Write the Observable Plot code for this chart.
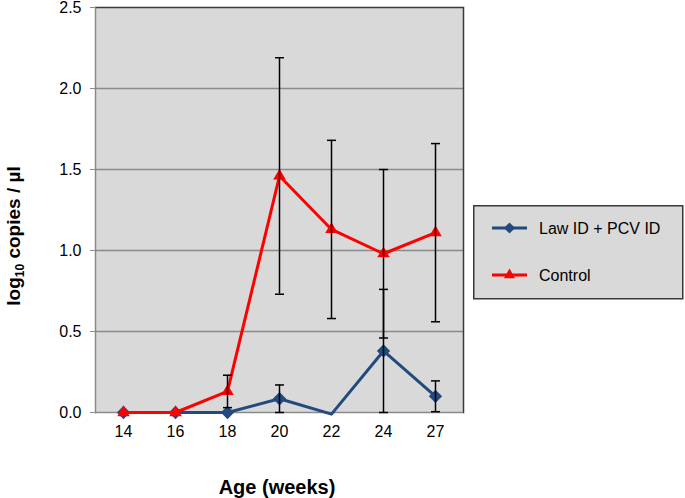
<!DOCTYPE html>
<html>
<head>
<meta charset="utf-8">
<script src="https://cdn.jsdelivr.net/npm/d3@7"></script>
<script src="https://cdn.jsdelivr.net/npm/@observablehq/plot@0.6"></script>
<style>
  body { margin: 0; background: #fff; font-family: "Liberation Sans", Arial, sans-serif; }
  #wrap { position: relative; width: 685px; height: 498px; }
  #legend { position: absolute; left: 473px; top: 205px; }
</style>
</head>
<body>
<div id="wrap"></div>
<script>
const weeks = ["14", "16", "18", "20", "22", "24", "27"];
const lawMean = [0, 0, 0, 0.085, -0.01, 0.38, 0.10];
const lawErr = [0, 0, 0, 0.085, 0, 0.38, 0.095];
const controlMean = [0, 0, 0.13, 1.46, 1.13, 0.98, 1.11];
const controlErr = [0, 0, 0.10, 0.73, 0.55, 0.52, 0.55];
const yTicks = [0, 0.5, 1.0, 1.5, 2.0, 2.5];
const seriesNames = ["Law ID + PCV ID", "Control"];
const seriesColors = ["#23497f", "#ff0000"];

const lawData = weeks.map((w, i) => ({week: w, v: lawMean[i], e: lawErr[i]}));
const ctlData = weeks.map((w, i) => ({week: w, v: controlMean[i], e: controlErr[i]}));
const errData = [...ctlData, ...lawData].filter(d => d.e > 0);

const cap = {draw(ctx, size) { const w = 4.5; ctx.moveTo(-w, 0); ctx.lineTo(w, 0); }};

const plot = Plot.plot({
  width: 685,
  height: 498,
  marginLeft: 95,
  marginRight: 222,
  marginTop: 7,
  marginBottom: 86,
  style: {fontFamily: "'Liberation Sans', Arial, sans-serif", fontSize: "16px", background: "transparent"},
  x: {type: "point", domain: weeks, padding: 0.5},
  y: {domain: [0, 2.5]},
  marks: [
    Plot.frame({fill: "#d9d9d9", stroke: "none"}),
    Plot.gridY(yTicks.slice(1, -1), {stroke: "#8a8a8a", strokeOpacity: 1, strokeWidth: 1.5}),
    Plot.ruleY([2.5], {stroke: "#3a3a3a", strokeWidth: 1.5}),
    Plot.frame({anchor: "right", stroke: "#3a3a3a", strokeWidth: 1.5}),
    Plot.frame({anchor: "left", stroke: "#8a8a8a", strokeWidth: 1.5}),
    Plot.ruleY([0], {stroke: "#8a8a8a", strokeWidth: 1.5}),
    Plot.axisY({ticks: yTicks, tickFormat: d3.format(".1f"), tickSize: 5, tickPadding: 9, stroke: "#8a8a8a", fill: "#000", label: null, fontSize: 16}),
    Plot.axisX({tickSize: 0, tickPadding: 13, fill: "#000", label: null, fontSize: 16}),
    Plot.line(lawData, {x: "week", y: "v", stroke: seriesColors[0], strokeWidth: 3}),
    Plot.dot(lawData.filter(d => d.v >= 0), {x: "week", y: "v", symbol: "diamond2", r: 6, fill: seriesColors[0]}),
    Plot.line(ctlData, {x: "week", y: "v", stroke: seriesColors[1], strokeWidth: 3}),
    Plot.dot(ctlData, {x: "week", y: "v", symbol: "triangle2", r: 6, fill: seriesColors[1]}),
    Plot.ruleX(errData, {x: "week", y1: d => d.v - d.e, y2: d => d.v + d.e, stroke: "#000", strokeWidth: 1.5}),
    Plot.dot(errData, {x: "week", y: d => d.v + d.e, symbol: cap, r: 3, stroke: "#000", strokeWidth: 1.5, fill: "none"}),
    Plot.dot(errData, {x: "week", y: d => d.v - d.e, symbol: cap, r: 3, stroke: "#000", strokeWidth: 1.5, fill: "none"})
  ]
});

const svg = d3.select(plot);
const yl = svg.append("text")
  .attr("transform", "translate(20,236) rotate(-90)")
  .attr("text-anchor", "middle")
  .attr("font-weight", "bold")
  .attr("font-size", 19)
  .attr("fill", "#000");
yl.append("tspan").text("log");
yl.append("tspan").attr("font-size", 12).attr("dy", 4).text("10");
yl.append("tspan").attr("dy", -4).text(" copies / µl");

svg.append("text")
  .attr("x", 277).attr("y", 494)
  .attr("text-anchor", "middle")
  .attr("font-weight", "bold")
  .attr("font-size", 20)
  .attr("fill", "#000")
  .text("Age (weeks)");

document.getElementById("wrap").append(plot);

// legend
const lg = d3.select("#wrap").append("svg")
  .attr("id", "legend")
  .attr("width", 211).attr("height", 95)
  .style("font-family", "'Liberation Sans', Arial, sans-serif");
lg.append("rect").attr("x", 0.75).attr("y", 0.75).attr("width", 209).attr("height", 93)
  .attr("fill", "#d9d9d9").attr("stroke", "#3a3a3a").attr("stroke-width", 1.5);
const rows = [23, 70];
const syms = [d3.symbolDiamond2, d3.symbolTriangle2];
seriesNames.forEach((name, i) => {
  const g = lg.append("g").attr("transform", `translate(0,${rows[i]})`);
  g.append("line").attr("x1", 19).attr("x2", 54).attr("y1", 0).attr("y2", 0)
    .attr("stroke", seriesColors[i]).attr("stroke-width", 3);
  g.append("path").attr("transform", "translate(36.5,0)")
    .attr("d", d3.symbol(syms[i], i === 0 ? 80 : 90)()).attr("fill", seriesColors[i]);
  g.append("text").attr("x", 66).attr("y", 0).attr("dy", "0.35em")
    .attr("font-size", 16).attr("fill", "#000").text(name);
});
</script>
</body>
</html>
